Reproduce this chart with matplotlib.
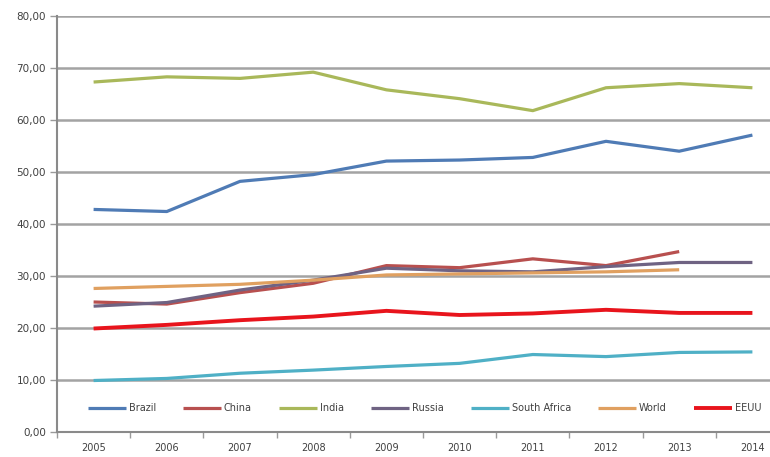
import matplotlib
matplotlib.use("Agg")
import matplotlib.pyplot as plt
from matplotlib.ticker import FuncFormatter, FixedLocator

# Years on the category axis
years = ["2005", "2006", "2007", "2008", "2009", "2010", "2011", "2012", "2013", "2014"]

# Series values (%)
brazil = [42.8, 42.4, 48.2, 49.5, 52.1, 52.3, 52.8, 55.9, 54.0, 57.1]
china = [25.0, 24.6, 26.8, 28.6, 32.0, 31.6, 33.3, 32.0, 34.7]
india = [67.3, 68.3, 68.0, 69.2, 65.8, 64.1, 61.8, 66.2, 67.0, 66.2]
russia = [24.2, 24.9, 27.3, 29.2, 31.5, 31.0, 30.8, 31.8, 32.6, 32.6]
south_africa = [9.9, 10.3, 11.3, 11.9, 12.6, 13.2, 14.9, 14.5, 15.3, 15.4]
world = [27.6, 28.0, 28.4, 29.2, 30.2, 30.4, 30.6, 30.8, 31.2]
eeuu = [19.9, 20.6, 21.5, 22.2, 23.3, 22.5, 22.8, 23.5, 22.9, 22.9]

series_names = ["Brazil", "China", "India", "Russia", "South Africa", "World", "EEUU"]
series_values = [brazil, china, india, russia, south_africa, world, eeuu]
series_colors = ["#4f7bb5", "#b8504f", "#a9b85a", "#6f6383", "#4fb0c6", "#e0a060", "#e8141c"]
series_widths = [2.3, 2.3, 2.3, 2.3, 2.3, 2.3, 2.8]

fig = plt.figure(figsize=(7.70, 4.57), dpi=100)
ax = fig.add_axes([57 / 770, 25 / 457, 732 / 770, 416 / 457])

for name, vals, col, lw in zip(series_names, series_values, series_colors, series_widths):
    ax.plot(range(len(vals)), vals, color=col, lw=lw, label=name,
            solid_joinstyle="round", solid_capstyle="butt", zorder=3)

ax.set_xlim(-0.5, len(years) - 0.5)
ax.set_ylim(0, 80)

# y axis: comma decimal labels, gridlines every 10
ax.set_yticks(range(0, 81, 10))
ax.yaxis.set_major_formatter(FuncFormatter(lambda v, p: f"{v:.2f}".replace(".", ",")))
ax.grid(axis="y", color="#a3a3a3", lw=1.8, zorder=1)
ax.set_axisbelow(True)

# x axis: labels centred on categories, ticks at category boundaries
ax.set_xticks(range(len(years)))
ax.set_xticklabels(years)
ax.xaxis.set_minor_locator(FixedLocator([i - 0.5 for i in range(len(years) + 1)]))
ax.tick_params(axis="x", which="major", length=0, pad=8, labelsize=7, labelcolor="#404040")
ax.tick_params(axis="x", which="minor", length=4, width=1, color="#9a9a9a", direction="out")
ax.tick_params(axis="y", length=5, width=1, color="#9a9a9a", pad=3, labelsize=7.5,
               labelcolor="#404040")

for side in ("top", "right"):
    ax.spines[side].set_visible(False)
ax.spines["left"].set_color("#8a8a8a")
ax.spines["left"].set_linewidth(1.5)
ax.spines["bottom"].set_color("#8a8a8a")
ax.spines["bottom"].set_linewidth(1.5)

leg = ax.legend(loc="center left", bbox_to_anchor=(0.042, 0.057), ncol=7, frameon=False,
                fontsize=7, handlelength=3.9, handletextpad=0.3, columnspacing=2.8,
                borderaxespad=0, borderpad=0)
for t in leg.get_texts():
    t.set_color("#404040")

fig.savefig("out.png", dpi=100)
